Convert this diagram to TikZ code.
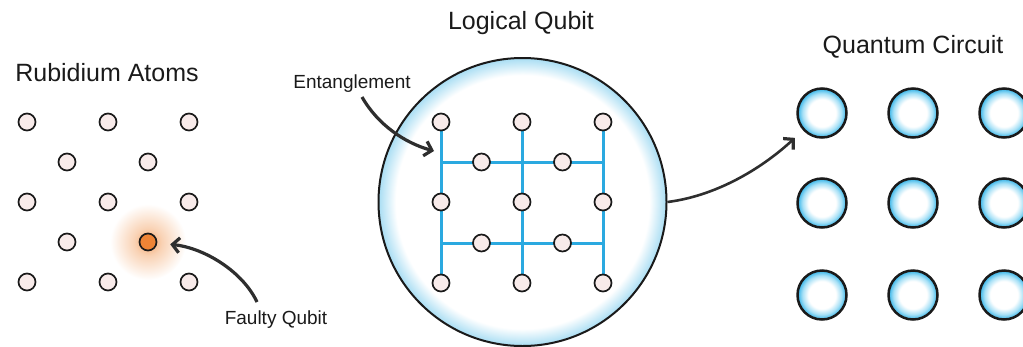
\documentclass[tikz,border=0pt]{standalone}
\usepackage{fontspec}
\setmainfont{Liberation Sans}
\usetikzlibrary{arrows.meta}

\definecolor{atomfill}{HTML}{F8EBEA}
\definecolor{ink}{HTML}{1A1A1A}
\definecolor{bond}{HTML}{2AA9E0}
\definecolor{faultcol}{HTML}{EE8436}
\definecolor{arrowgray}{HTML}{2E2E2E}
\definecolor{rim}{HTML}{A8DDF3}
\definecolor{qcrim}{HTML}{30B2E8}
\definecolor{qcmid}{HTML}{A6E0F6}
\definecolor{haloin}{HTML}{F4A66C}
\definecolor{halomid}{HTML}{F9D2B4}

% white interior with a soft coloured rim
\pgfdeclareradialshading{bigrim}{\pgfpoint{0bp}{0bp}}{color(0bp)=(white); color(22bp)=(white); color(25bp)=(rim); color(50bp)=(rim)}
\pgfdeclareradialshading{qcglow}{\pgfpoint{0bp}{0bp}}{color(0bp)=(white); color(14bp)=(white); color(20bp)=(qcmid); color(25bp)=(qcrim); color(50bp)=(qcrim)}
% orange halo fading into the background
\pgfdeclareradialshading{halo}{\pgfpoint{0bp}{0bp}}{color(0bp)=(haloin); color(9bp)=(halomid); color(25bp)=(white); color(50bp)=(white)}

\tikzset{
  atom/.style={circle, draw=ink, line width=1.7pt, fill=atomfill, minimum size=17pt, inner sep=0pt},
  faulty/.style={atom, fill=faultcol},
  qubit/.style={circle, draw=ink, line width=2.5pt, shading=qcglow, minimum size=49pt, inner sep=0pt},
  bubble/.style={circle, draw=ink, line width=2pt, shading=bigrim, minimum size=288pt, inner sep=0pt},
  title/.style={font=\fontsize{25}{30}\selectfont, text=ink, inner sep=0pt},
  label/.style={font=\fontsize{19}{23}\selectfont, text=ink, inner sep=0pt},
  bondline/.style={draw=bond, line width=3pt},
  arr/.style={draw=arrowgray, line width=3.2pt, -{Straight Barb[length=7pt, width=15pt, line width=3.2pt]}},
}

\begin{document}
\begin{tikzpicture}[x=1pt, y=-1pt]
\useasboundingbox (0,0) rectangle (1023,346);
\clip (0,0) rectangle (1023,346);

% ---------- rubidium atoms ----------
\node[title] (rbtitle) at (107,73) {Rubidium Atoms};
\shade[shading=halo] (148,242) circle (38pt);
\foreach \c/\x in {1/27, 2/108, 3/189} {
  \node[atom] (r1\c) at (\x,122) {};
  \node[atom] (r3\c) at (\x,202) {};
  \node[atom] (r5\c) at (\x,282) {};
}
\node[atom] (r21) at (67,162) {};
\node[atom] (r22) at (148,162) {};
\node[atom] (r41) at (67,242) {};
\node[faulty] (fault) at (148,242) {};

\node[label] (faultlabel) at (276,320) {Faulty Qubit};
\coordinate (ftail) at (257,302);
\draw[arr, shorten >=13pt] (ftail) .. controls (243,272) and (205,248) .. (fault);

% ---------- logical qubit ----------
\node[title] (lqtitle) at (521,23) {Logical Qubit};
\node[bubble] (lq) at (522.5,202) {};

\foreach \c/\x in {1/441, 2/522, 3/603} {
  \coordinate (top\c) at (\x,122);
  \coordinate (bot\c) at (\x,283);
  \draw[bondline] (top\c) -- (bot\c);
}
\coordinate (h1a) at (441,162); \coordinate (h1b) at (603,162);
\coordinate (h2a) at (441,243); \coordinate (h2b) at (603,243);
\draw[bondline] (h1a) -- (h1b);
\draw[bondline] (h2a) -- (h2b);

\foreach \c/\x in {1/441, 2/522, 3/603} {
  \node[atom] (g1\c) at (\x,122) {};
  \node[atom] (g3\c) at (\x,202) {};
  \node[atom] (g5\c) at (\x,283) {};
}
\node[atom] (g21) at (481.5,162) {};
\node[atom] (g22) at (562.5,162) {};
\node[atom] (g41) at (481.5,243) {};
\node[atom] (g42) at (562.5,243) {};

\node[label] (entlabel) at (352,84) {Entanglement};
\coordinate (etail) at (362,97);
\coordinate (ehead) at (434,151);
\draw[arr] (etail) .. controls (378,125) and (405,143) .. (ehead);

% ---------- quantum circuit ----------
\node[title] (qctitle) at (913,47) {Quantum Circuit};
\foreach \r/\y in {1/113, 2/203, 3/295} {
  \foreach \c/\x in {1/822, 2/913, 3/1004} {
    \node[qubit] (q\r\c) at (\x,\y) {};
  }
}

\draw[draw=arrowgray, line width=2.6pt, -{Straight Barb[length=7pt, width=15pt, line width=3.2pt]}, shorten >=11pt]
  (lq.east) .. controls (715,196) and (760,170) .. (q11);
\end{tikzpicture}
\end{document}
